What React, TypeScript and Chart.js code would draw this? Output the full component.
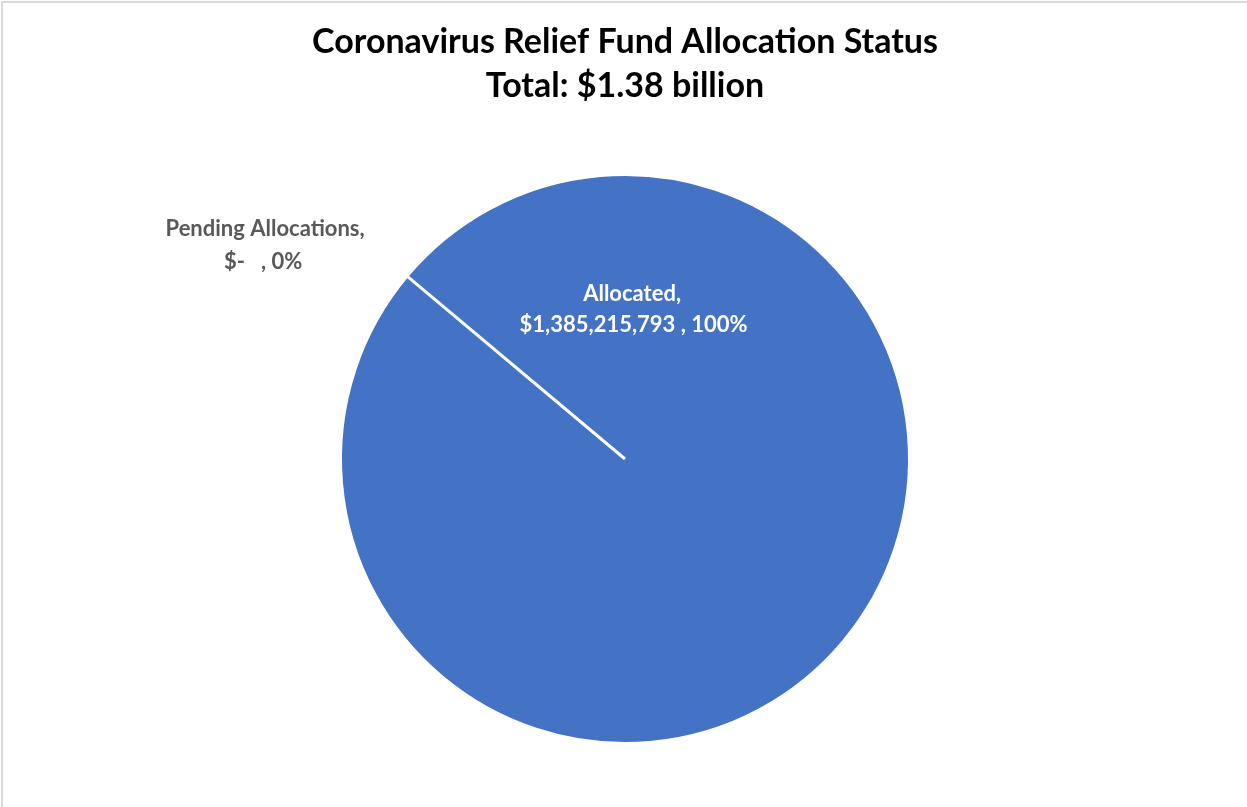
import React, { useEffect, useRef } from "react";
import { Chart, registerables } from "chart.js";

Chart.register(...registerables);

const categories = ["Allocated", "Pending Allocations"];
const amounts = [1385215793, 0];
const amountText = ["$1,385,215,793", "$-   "];
const percentText = ["100%", "0%"];
const titleLines = ["Coronavirus Relief Fund Allocation Status", "Total: $1.38 billion"];

const FONT = "Lato, 'Open Sans', sans-serif";

const framePlugin = {
  id: "frame",
  beforeDraw(chart: any) {
    const ctx = chart.ctx;
    ctx.save();
    ctx.fillStyle = "#ffffff";
    ctx.fillRect(0, 0, chart.width, chart.height);
    ctx.fillStyle = "#d9d9d9";
    ctx.fillRect(1, 1, 2, chart.height);
    ctx.fillRect(1, 1, chart.width, 2);
    ctx.restore();
  },
};

const labelPlugin = {
  id: "sliceLabels",
  afterDatasetsDraw(chart: any) {
    const meta = chart.getDatasetMeta(0);
    const arc = meta.data[0];
    if (!arc) return;
    const { x, y, outerRadius } = arc.getProps(["x", "y", "outerRadius"], true);
    const r = outerRadius;
    const ctx = chart.ctx;
    ctx.save();
    ctx.font = `bold 22px ${FONT}`;
    ctx.textAlign = "center";
    ctx.textBaseline = "middle";
    // Allocated label (inside)
    ctx.fillStyle = "#ffffff";
    ctx.fillText(categories[0] + ",", x + 0.025 * r, y - 0.58 * r);
    ctx.fillText(`${amountText[0]} , ${percentText[0]}`, x + 0.03 * r, y - 0.473 * r);
    // Pending label (outside)
    ctx.fillStyle = "#595959";
    ctx.fillText(categories[1] + ",", x - 1.265 * r, y - 0.809 * r);
    ctx.fillText(`${amountText[1]}, ${percentText[1]}`, x - 1.272 * r, y - 0.693 * r);
    ctx.restore();
  },
};

export default function App() {
  const ref = useRef<HTMLCanvasElement>(null);
  useEffect(() => {
    if (!ref.current) return;
    const chart = new Chart(ref.current, {
      type: "pie",
      data: {
        labels: categories,
        datasets: [
          {
            data: amounts,
            backgroundColor: ["#4472c4", "#ed7d31"],
            borderColor: "#ffffff",
            borderWidth: 3,
          },
        ],
      },
      options: {
        animation: false,
        responsive: false,
        rotation: -50,
        layout: { padding: { left: 3, right: 0, top: 0, bottom: 62 } },
        plugins: {
          legend: { display: false },
          tooltip: { enabled: false },
          title: {
            display: true,
            text: titleLines,
            color: "#000000",
            font: { family: FONT, size: 34, weight: "bold", lineHeight: 44 / 34 },
            padding: { top: 20, bottom: 65 },
          },
        },
      },
      plugins: [framePlugin, labelPlugin],
    });
    return () => chart.destroy();
  }, []);
  return (
    <div style={{ position: "fixed", left: 0, top: 0, width: 1247, height: 807, background: "#fff" }}>
      <canvas ref={ref} width={1247} height={807} style={{ display: "block" }} />
    </div>
  );
}
